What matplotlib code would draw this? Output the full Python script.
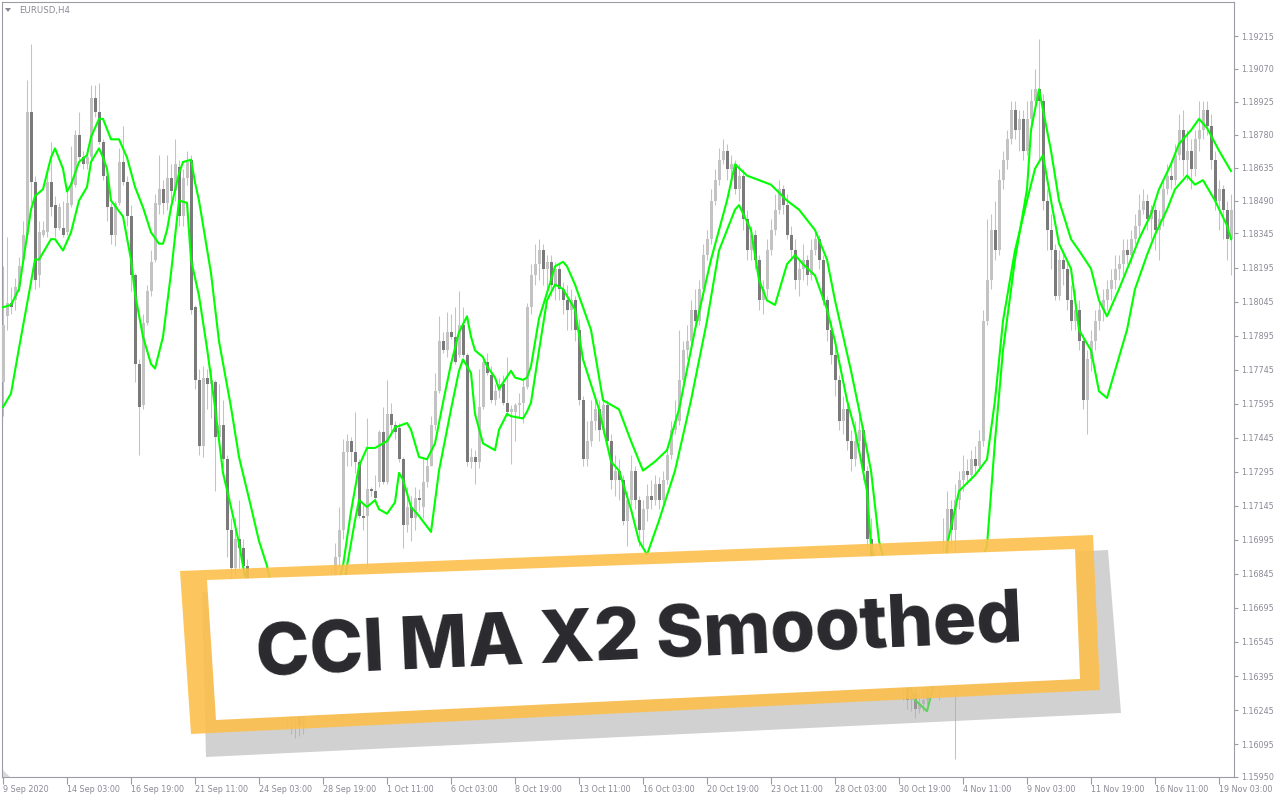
import matplotlib
matplotlib.use("Agg")
import matplotlib.pyplot as plt
from matplotlib.patches import Polygon
import numpy as np

# --------------------------------------------------
# Data (EURUSD H4)
# --------------------------------------------------

OPEN = [
    1.1769, 1.1798, 1.1804, 1.1805, 1.1811, 1.1823, 1.1834, 1.1888, 1.1857, 1.1816,
    1.1834, 1.1835, 1.1857, 1.1847, 1.1837, 1.1837, 1.1835, 1.1847, 1.1856, 1.1878,
    1.1868, 1.1865, 1.1868, 1.1894, 1.1888, 1.1875, 1.1860, 1.1846, 1.1834, 1.1848,
    1.1866, 1.1857, 1.1842, 1.1816, 1.1777, 1.1759, 1.1795, 1.1809, 1.1823, 1.1847,
    1.1854, 1.1848, 1.1859, 1.1853, 1.1864, 1.1842, 1.1859, 1.1867, 1.1802, 1.1770,
    1.1741, 1.1771, 1.1768, 1.1769, 1.1745, 1.1750, 1.1735, 1.1704, 1.1687, 1.1700,
    1.1696, 1.1688, 1.1678, 1.1665, 1.1671, 1.1656, 1.1647, 1.1651, 1.1638, 1.1629,
    1.1634, 1.1623, 1.1627, 1.1621, 1.1624, 1.1618, 1.1627, 1.1629, 1.1634, 1.1638,
    1.1647, 1.1656, 1.1669, 1.1682, 1.1692, 1.1704, 1.1738, 1.1743, 1.1738, 1.1734,
    1.1710, 1.1710, 1.1722, 1.1721, 1.1725, 1.1747, 1.1725, 1.1755, 1.1750, 1.1749,
    1.1735, 1.1706, 1.1714, 1.1709, 1.1718, 1.1714, 1.1725, 1.1732, 1.1750, 1.1765,
    1.1787, 1.1783, 1.1791, 1.1789, 1.1781, 1.1794, 1.1781, 1.1734, 1.1736, 1.1734,
    1.1758, 1.1778, 1.1772, 1.1761, 1.1765, 1.1768, 1.1760, 1.1756, 1.1756, 1.1759,
    1.1760, 1.1767, 1.1802, 1.1816, 1.1821, 1.1827, 1.1819, 1.1822, 1.1812, 1.1819,
    1.1810, 1.1805, 1.1801, 1.1805, 1.1792, 1.1761, 1.1735, 1.1743, 1.1752, 1.1757,
    1.1748, 1.1759, 1.1743, 1.1726, 1.1730, 1.1726, 1.1708, 1.1717, 1.1730, 1.1717,
    1.1704, 1.1713, 1.1719, 1.1717, 1.1724, 1.1717, 1.1726, 1.1737, 1.1748, 1.1752,
    1.1770, 1.1783, 1.1787, 1.1801, 1.1796, 1.1810, 1.1825, 1.1832, 1.1849, 1.1858,
    1.1867, 1.1871, 1.1863, 1.1865, 1.1854, 1.1860, 1.1841, 1.1827, 1.1834, 1.1823,
    1.1805, 1.1810, 1.1827, 1.1836, 1.1845, 1.1854, 1.1847, 1.1834, 1.1827, 1.1814,
    1.1819, 1.1823, 1.1816, 1.1827, 1.1832, 1.1823, 1.1805, 1.1792, 1.1781, 1.1770,
    1.1752, 1.1757, 1.1743, 1.1735, 1.1743, 1.1748, 1.1730, 1.1700, 1.1691, 1.1678,
    1.1665, 1.1669, 1.1656, 1.1647, 1.1651, 1.1638, 1.1634, 1.1629, 1.1632, 1.1625,
    1.1627, 1.1629, 1.1634, 1.1638, 1.1647, 1.1656, 1.1691, 1.1713, 1.1704, 1.1717,
    1.1726, 1.1730, 1.1728, 1.1735, 1.1732, 1.1743, 1.1796, 1.1814, 1.1836, 1.1827,
    1.1858, 1.1867, 1.1876, 1.1889, 1.1880, 1.1885, 1.1871, 1.1885, 1.1893, 1.1898,
    1.1893, 1.1849, 1.1836, 1.1827, 1.1807, 1.1823, 1.1819, 1.1805, 1.1796, 1.1801,
    1.1787, 1.1761, 1.1779, 1.1787, 1.1796, 1.1801, 1.1805, 1.1810, 1.1814, 1.1819,
    1.1821, 1.1827, 1.1825, 1.1832, 1.1838, 1.1845, 1.1849, 1.1841, 1.1845, 1.1836,
    1.1841, 1.1854, 1.1860, 1.1858, 1.1869, 1.1880, 1.1867, 1.1871, 1.1863, 1.1876,
    1.1880, 1.1889, 1.1882, 1.1867, 1.1849, 1.1854, 1.1845, 1.1832,
]

HIGH = [
    1.1820, 1.1833, 1.1811, 1.1815, 1.1824, 1.1840, 1.1902, 1.1918, 1.1860, 1.1840,
    1.1840, 1.1863, 1.1875, 1.1851, 1.1848, 1.1849, 1.1854, 1.1873, 1.1880, 1.1888,
    1.1871, 1.1872, 1.1900, 1.1900, 1.1901, 1.1876, 1.1862, 1.1848, 1.1849, 1.1872,
    1.1882, 1.1860, 1.1847, 1.1817, 1.1779, 1.1799, 1.1812, 1.1827, 1.1852, 1.1869,
    1.1858, 1.1869, 1.1865, 1.1876, 1.1867, 1.1863, 1.1871, 1.1869, 1.1803, 1.1775,
    1.1776, 1.1775, 1.1775, 1.1770, 1.1768, 1.1761, 1.1737, 1.1709, 1.1709, 1.1717,
    1.1700, 1.1691, 1.1680, 1.1676, 1.1673, 1.1660, 1.1656, 1.1654, 1.1643, 1.1638,
    1.1636, 1.1632, 1.1629, 1.1629, 1.1627, 1.1629, 1.1634, 1.1638, 1.1645, 1.1651,
    1.1660, 1.1673, 1.1687, 1.1698, 1.1714, 1.1744, 1.1746, 1.1745, 1.1756, 1.1735,
    1.1715, 1.1753, 1.1723, 1.1728, 1.1748, 1.1758, 1.1770, 1.1760, 1.1752, 1.1751,
    1.1736, 1.1723, 1.1719, 1.1723, 1.1722, 1.1736, 1.1735, 1.1754, 1.1773, 1.1798,
    1.1791, 1.1800, 1.1799, 1.1802, 1.1809, 1.1802, 1.1782, 1.1740, 1.1739, 1.1775,
    1.1779, 1.1782, 1.1776, 1.1768, 1.1771, 1.1772, 1.1780, 1.1759, 1.1760, 1.1764,
    1.1771, 1.1804, 1.1821, 1.1830, 1.1832, 1.1830, 1.1825, 1.1825, 1.1822, 1.1821,
    1.1813, 1.1812, 1.1810, 1.1807, 1.1797, 1.1763, 1.1752, 1.1761, 1.1763, 1.1761,
    1.1763, 1.1761, 1.1746, 1.1737, 1.1735, 1.1728, 1.1721, 1.1737, 1.1732, 1.1719,
    1.1717, 1.1724, 1.1726, 1.1728, 1.1727, 1.1730, 1.1741, 1.1752, 1.1761, 1.1792,
    1.1787, 1.1794, 1.1805, 1.1810, 1.1814, 1.1830, 1.1836, 1.1854, 1.1863, 1.1872,
    1.1876, 1.1874, 1.1869, 1.1867, 1.1865, 1.1863, 1.1845, 1.1838, 1.1836, 1.1825,
    1.1814, 1.1832, 1.1841, 1.1852, 1.1858, 1.1856, 1.1852, 1.1838, 1.1832, 1.1823,
    1.1830, 1.1825, 1.1832, 1.1836, 1.1834, 1.1825, 1.1807, 1.1796, 1.1785, 1.1772,
    1.1763, 1.1761, 1.1748, 1.1752, 1.1754, 1.1750, 1.1732, 1.1709, 1.1695, 1.1682,
    1.1673, 1.1673, 1.1660, 1.1656, 1.1656, 1.1643, 1.1638, 1.1636, 1.1634, 1.1632,
    1.1634, 1.1638, 1.1643, 1.1651, 1.1660, 1.1709, 1.1721, 1.1717, 1.1724, 1.1730,
    1.1737, 1.1735, 1.1739, 1.1741, 1.1748, 1.1801, 1.1841, 1.1843, 1.1849, 1.1863,
    1.1871, 1.1880, 1.1893, 1.1893, 1.1889, 1.1889, 1.1893, 1.1898, 1.1907, 1.1920,
    1.1896, 1.1854, 1.1843, 1.1830, 1.1827, 1.1827, 1.1823, 1.1812, 1.1810, 1.1805,
    1.1790, 1.1783, 1.1792, 1.1801, 1.1805, 1.1810, 1.1814, 1.1819, 1.1825, 1.1825,
    1.1832, 1.1832, 1.1836, 1.1843, 1.1852, 1.1854, 1.1852, 1.1847, 1.1847, 1.1845,
    1.1858, 1.1865, 1.1867, 1.1874, 1.1887, 1.1889, 1.1880, 1.1876, 1.1880, 1.1893,
    1.1893, 1.1893, 1.1887, 1.1871, 1.1858, 1.1856, 1.1849, 1.1852,
]

LOW = [
    1.1754, 1.1792, 1.1799, 1.1801, 1.1809, 1.1822, 1.1832, 1.1848, 1.1810, 1.1811,
    1.1833, 1.1833, 1.1842, 1.1833, 1.1836, 1.1833, 1.1834, 1.1846, 1.1855, 1.1867,
    1.1863, 1.1863, 1.1867, 1.1886, 1.1874, 1.1858, 1.1840, 1.1830, 1.1829, 1.1847,
    1.1856, 1.1838, 1.1809, 1.1769, 1.1737, 1.1757, 1.1794, 1.1807, 1.1822, 1.1843,
    1.1843, 1.1845, 1.1849, 1.1849, 1.1838, 1.1838, 1.1856, 1.1799, 1.1766, 1.1737,
    1.1736, 1.1757, 1.1753, 1.1721, 1.1744, 1.1731, 1.1692, 1.1682, 1.1684, 1.1687,
    1.1684, 1.1673, 1.1660, 1.1656, 1.1651, 1.1643, 1.1640, 1.1634, 1.1625, 1.1623,
    1.1620, 1.1617, 1.1614, 1.1612, 1.1613, 1.1614, 1.1623, 1.1625, 1.1629, 1.1634,
    1.1643, 1.1651, 1.1665, 1.1678, 1.1687, 1.1700, 1.1732, 1.1732, 1.1729, 1.1709,
    1.1704, 1.1687, 1.1719, 1.1717, 1.1723, 1.1724, 1.1724, 1.1747, 1.1744, 1.1734,
    1.1696, 1.1703, 1.1699, 1.1704, 1.1712, 1.1709, 1.1723, 1.1732, 1.1748, 1.1764,
    1.1782, 1.1780, 1.1788, 1.1777, 1.1780, 1.1780, 1.1732, 1.1731, 1.1724, 1.1731,
    1.1757, 1.1772, 1.1760, 1.1759, 1.1762, 1.1759, 1.1754, 1.1733, 1.1743, 1.1753,
    1.1751, 1.1766, 1.1799, 1.1812, 1.1814, 1.1812, 1.1810, 1.1807, 1.1805, 1.1805,
    1.1799, 1.1792, 1.1792, 1.1787, 1.1759, 1.1732, 1.1732, 1.1741, 1.1748, 1.1743,
    1.1746, 1.1741, 1.1722, 1.1719, 1.1717, 1.1706, 1.1697, 1.1715, 1.1713, 1.1697,
    1.1697, 1.1708, 1.1713, 1.1715, 1.1713, 1.1715, 1.1724, 1.1735, 1.1746, 1.1750,
    1.1768, 1.1779, 1.1785, 1.1792, 1.1794, 1.1807, 1.1823, 1.1830, 1.1847, 1.1856,
    1.1865, 1.1858, 1.1856, 1.1852, 1.1849, 1.1836, 1.1823, 1.1823, 1.1819, 1.1801,
    1.1799, 1.1807, 1.1825, 1.1834, 1.1843, 1.1843, 1.1832, 1.1823, 1.1810, 1.1807,
    1.1814, 1.1812, 1.1814, 1.1825, 1.1819, 1.1803, 1.1787, 1.1777, 1.1763, 1.1748,
    1.1746, 1.1739, 1.1730, 1.1732, 1.1741, 1.1726, 1.1695, 1.1682, 1.1673, 1.1660,
    1.1656, 1.1651, 1.1643, 1.1640, 1.1634, 1.1629, 1.1625, 1.1624, 1.1621, 1.1623,
    1.1624, 1.1627, 1.1632, 1.1634, 1.1629, 1.1651, 1.1687, 1.1697, 1.1603, 1.1713,
    1.1721, 1.1724, 1.1726, 1.1728, 1.1730, 1.1741, 1.1794, 1.1810, 1.1823, 1.1825,
    1.1854, 1.1863, 1.1874, 1.1876, 1.1871, 1.1867, 1.1869, 1.1880, 1.1889, 1.1867,
    1.1845, 1.1827, 1.1819, 1.1805, 1.1805, 1.1812, 1.1801, 1.1792, 1.1792, 1.1783,
    1.1757, 1.1746, 1.1774, 1.1783, 1.1792, 1.1796, 1.1801, 1.1805, 1.1810, 1.1814,
    1.1816, 1.1821, 1.1821, 1.1830, 1.1834, 1.1843, 1.1836, 1.1832, 1.1827, 1.1823,
    1.1838, 1.1852, 1.1854, 1.1856, 1.1867, 1.1860, 1.1858, 1.1854, 1.1860, 1.1871,
    1.1876, 1.1878, 1.1863, 1.1845, 1.1836, 1.1832, 1.1823, 1.1816,
]

CLOSE = [
    1.1794, 1.1804, 1.1802, 1.1811, 1.1820, 1.1834, 1.1888, 1.1857, 1.1814, 1.1835,
    1.1836, 1.1857, 1.1846, 1.1837, 1.1846, 1.1834, 1.1848, 1.1857, 1.1878, 1.1868,
    1.1865, 1.1868, 1.1894, 1.1888, 1.1875, 1.1860, 1.1846, 1.1834, 1.1848, 1.1866,
    1.1857, 1.1842, 1.1816, 1.1777, 1.1758, 1.1795, 1.1809, 1.1822, 1.1848, 1.1854,
    1.1848, 1.1859, 1.1853, 1.1865, 1.1842, 1.1859, 1.1866, 1.1801, 1.1770, 1.1741,
    1.1771, 1.1768, 1.1770, 1.1745, 1.1750, 1.1735, 1.1704, 1.1687, 1.1700, 1.1696,
    1.1688, 1.1678, 1.1665, 1.1671, 1.1656, 1.1647, 1.1651, 1.1638, 1.1629, 1.1634,
    1.1623, 1.1627, 1.1621, 1.1624, 1.1618, 1.1627, 1.1629, 1.1634, 1.1638, 1.1647,
    1.1656, 1.1669, 1.1682, 1.1692, 1.1704, 1.1738, 1.1743, 1.1738, 1.1734, 1.1710,
    1.1709, 1.1722, 1.1721, 1.1718, 1.1747, 1.1725, 1.1755, 1.1750, 1.1747, 1.1735,
    1.1706, 1.1714, 1.1709, 1.1718, 1.1717, 1.1725, 1.1732, 1.1750, 1.1765, 1.1787,
    1.1783, 1.1791, 1.1789, 1.1778, 1.1794, 1.1781, 1.1734, 1.1736, 1.1734, 1.1758,
    1.1778, 1.1773, 1.1761, 1.1765, 1.1768, 1.1760, 1.1756, 1.1757, 1.1759, 1.1760,
    1.1767, 1.1802, 1.1816, 1.1821, 1.1827, 1.1819, 1.1822, 1.1812, 1.1819, 1.1810,
    1.1805, 1.1801, 1.1805, 1.1792, 1.1761, 1.1735, 1.1743, 1.1752, 1.1757, 1.1748,
    1.1759, 1.1743, 1.1726, 1.1730, 1.1726, 1.1708, 1.1717, 1.1730, 1.1717, 1.1704,
    1.1713, 1.1719, 1.1717, 1.1724, 1.1717, 1.1726, 1.1737, 1.1748, 1.1752, 1.1770,
    1.1783, 1.1787, 1.1801, 1.1796, 1.1810, 1.1825, 1.1832, 1.1849, 1.1858, 1.1867,
    1.1871, 1.1863, 1.1865, 1.1854, 1.1860, 1.1841, 1.1827, 1.1834, 1.1823, 1.1805,
    1.1810, 1.1827, 1.1836, 1.1845, 1.1854, 1.1847, 1.1834, 1.1827, 1.1814, 1.1819,
    1.1823, 1.1816, 1.1827, 1.1832, 1.1823, 1.1805, 1.1792, 1.1781, 1.1770, 1.1752,
    1.1757, 1.1743, 1.1735, 1.1743, 1.1748, 1.1730, 1.1700, 1.1691, 1.1678, 1.1665,
    1.1669, 1.1656, 1.1647, 1.1651, 1.1638, 1.1634, 1.1629, 1.1632, 1.1625, 1.1627,
    1.1629, 1.1634, 1.1638, 1.1647, 1.1656, 1.1691, 1.1713, 1.1704, 1.1717, 1.1726,
    1.1730, 1.1728, 1.1735, 1.1732, 1.1743, 1.1796, 1.1814, 1.1836, 1.1827, 1.1858,
    1.1867, 1.1876, 1.1889, 1.1880, 1.1885, 1.1871, 1.1885, 1.1893, 1.1898, 1.1893,
    1.1849, 1.1836, 1.1827, 1.1807, 1.1823, 1.1819, 1.1805, 1.1796, 1.1801, 1.1787,
    1.1761, 1.1779, 1.1787, 1.1796, 1.1801, 1.1805, 1.1810, 1.1814, 1.1819, 1.1821,
    1.1827, 1.1825, 1.1832, 1.1838, 1.1845, 1.1849, 1.1841, 1.1845, 1.1836, 1.1841,
    1.1854, 1.1860, 1.1858, 1.1869, 1.1880, 1.1867, 1.1871, 1.1863, 1.1876, 1.1880,
    1.1889, 1.1882, 1.1867, 1.1849, 1.1854, 1.1845, 1.1832, 1.1845,
]

# the two smoothed lines, read as (bar index, price) points
LINE_A_BARS = [
    0, 2, 4, 7, 8, 10, 12, 13, 15, 16, 17, 19, 21, 22, 24, 25, 27, 29, 31, 33,
    35, 37, 39, 40, 41, 42, 44, 45, 47, 48, 49, 52, 54, 57, 59, 62, 64, 66, 69, 73,
    75, 79, 82, 85, 87, 89, 91, 93, 96, 98, 101, 102, 104, 106, 108, 110, 112, 114, 116, 117,
    118, 120, 121, 123, 124, 127, 128, 130, 131, 132, 134, 137, 138, 140, 141, 143, 147, 150, 154, 157,
    160, 163, 166, 169, 173, 177, 181, 183, 186, 189, 192, 196, 199, 203, 206, 208, 212, 214, 217, 219,
    224, 232, 238, 243, 246, 248, 250, 253, 256, 257, 259, 262, 264, 267, 269, 272, 274, 276, 279, 282,
    284, 287, 289, 292, 294, 297, 299, 301, 304, 307,
]
LINE_A = [
    1.1802, 1.1803, 1.1810, 1.1845, 1.1851, 1.1854, 1.1868, 1.1872, 1.1863, 1.1853,
    1.1856, 1.1866, 1.1869, 1.1877, 1.1885, 1.1885, 1.1876, 1.1876, 1.1868, 1.1855,
    1.1846, 1.1835, 1.1830, 1.1830, 1.1836, 1.1846, 1.1861, 1.1866, 1.1867, 1.1857,
    1.1849, 1.1817, 1.1787, 1.1758, 1.1736, 1.1714, 1.1699, 1.1688, 1.1665, 1.1638,
    1.1629, 1.1647, 1.1669, 1.1688, 1.1712, 1.1732, 1.1740, 1.1740, 1.1743, 1.1749,
    1.1751, 1.1748, 1.1736, 1.1735, 1.1742, 1.1760, 1.1777, 1.1791, 1.1798, 1.1789,
    1.1783, 1.1780, 1.1776, 1.1771, 1.1766, 1.1774, 1.1771, 1.1770, 1.1771, 1.1776,
    1.1797, 1.1814, 1.1820, 1.1822, 1.1820, 1.1812, 1.1792, 1.1761, 1.1757, 1.1743,
    1.1730, 1.1734, 1.1739, 1.1757, 1.1792, 1.1823, 1.1849, 1.1865, 1.1860, 1.1858,
    1.1856, 1.1849, 1.1845, 1.1836, 1.1823, 1.1805, 1.1774, 1.1757, 1.1730, 1.1699,
    1.1665, 1.1638, 1.1651, 1.1682, 1.1697, 1.1743, 1.1783, 1.1823, 1.1854, 1.1880,
    1.1898, 1.1871, 1.1849, 1.1832, 1.1827, 1.1819, 1.1805, 1.1798, 1.1810, 1.1823,
    1.1832, 1.1843, 1.1854, 1.1865, 1.1874, 1.1880, 1.1885, 1.1881, 1.1871, 1.1862,
]

LINE_B_BARS = [
    0, 2, 4, 7, 8, 9, 12, 13, 15, 17, 19, 21, 22, 24, 25, 26, 27, 30, 32, 33,
    35, 37, 38, 40, 42, 44, 46, 47, 49, 51, 53, 55, 57, 59, 60, 64, 69, 74, 79, 82,
    86, 88, 89, 91, 93, 94, 96, 98, 99, 100, 102, 104, 107, 109, 112, 114, 115, 117, 118, 120,
    122, 123, 124, 126, 127, 130, 131, 132, 134, 136, 138, 140, 143, 145, 149, 152, 154, 157, 159, 161,
    164, 168, 172, 176, 179, 183, 184, 187, 189, 191, 193, 196, 198, 200, 203, 206, 208, 211, 213, 216,
    217, 223, 228, 231, 233, 236, 239, 243, 246, 248, 250, 253, 256, 258, 260, 262, 264, 267, 269, 272,
    274, 276, 278, 281, 283, 286, 288, 291, 293, 296, 298, 300, 303, 306, 307,
]
LINE_B = [
    1.1758, 1.1764, 1.1784, 1.1813, 1.1823, 1.1823, 1.1832, 1.1832, 1.1827, 1.1835,
    1.1849, 1.1855, 1.1866, 1.1872, 1.1868, 1.1863, 1.1849, 1.1842, 1.1823, 1.1808,
    1.1789, 1.1777, 1.1775, 1.1789, 1.1817, 1.1849, 1.1848, 1.1823, 1.1807, 1.1784,
    1.1758, 1.1729, 1.1714, 1.1698, 1.1688, 1.1656, 1.1634, 1.1624, 1.1622, 1.1643,
    1.1688, 1.1708, 1.1717, 1.1714, 1.1717, 1.1713, 1.1711, 1.1716, 1.1729, 1.1726,
    1.1714, 1.1710, 1.1703, 1.1730, 1.1757, 1.1774, 1.1779, 1.1773, 1.1755, 1.1742,
    1.1740, 1.1739, 1.1748, 1.1755, 1.1754, 1.1753, 1.1756, 1.1760, 1.1783, 1.1805,
    1.1812, 1.1810, 1.1801, 1.1779, 1.1757, 1.1734, 1.1730, 1.1713, 1.1699, 1.1693,
    1.1708, 1.1730, 1.1761, 1.1796, 1.1827, 1.1845, 1.1847, 1.1836, 1.1814, 1.1805,
    1.1803, 1.1821, 1.1825, 1.1821, 1.1816, 1.1801, 1.1787, 1.1761, 1.1748, 1.1721,
    1.1697, 1.1651, 1.1629, 1.1624, 1.1638, 1.1697, 1.1721, 1.1728, 1.1735, 1.1761,
    1.1796, 1.1827, 1.1849, 1.1863, 1.1869, 1.1849, 1.1830, 1.1819, 1.1792, 1.1783,
    1.1765, 1.1762, 1.1774, 1.1792, 1.1810, 1.1825, 1.1834, 1.1845, 1.1854, 1.1860,
    1.1856, 1.1858, 1.1849, 1.1838, 1.1832,
]

PRICE_TICKS = [
    1.19215, 1.19070, 1.18925, 1.18780, 1.18635, 1.18490, 1.18345, 1.18195,
    1.18045, 1.17895, 1.17745, 1.17595, 1.17445, 1.17295, 1.17145, 1.16995,
    1.16845, 1.16695, 1.16545, 1.16395, 1.16245, 1.16095, 1.15950,
]

DATE_TICKS = list(range(0, 308, 16))
DATE_LABELS = [
    "9 Sep 2020", "14 Sep 03:00", "16 Sep 19:00", "21 Sep 11:00", "24 Sep 03:00",
    "28 Sep 19:00", "1 Oct 11:00", "6 Oct 03:00", "8 Oct 19:00", "13 Oct 11:00",
    "16 Oct 03:00", "20 Oct 19:00", "23 Oct 11:00", "28 Oct 03:00", "30 Oct 19:00",
    "4 Nov 11:00", "9 Nov 03:00", "11 Nov 19:00", "16 Nov 11:00", "19 Nov 03:00",
]

SYMBOL = "EURUSD,H4"
TITLE = "CCI MA X2 Smoothed"

# --------------------------------------------------
# Styling
# --------------------------------------------------

BULL = "#c3c3c3"
BEAR = "#7a7a7a"
WICK = "#c3c3c3"
LINE_GREEN = "#00ff00"
AXIS_COL = "#9c9ca4"
TEXT_COL = "#8a8a96"

W, H = 1280, 800
fig = plt.figure(figsize=(W / 100, H / 100), dpi=100)
fig.patch.set_facecolor("white")

ax = fig.add_axes([2 / W, 23 / H, 1232 / W, 775 / H])
ax.set_facecolor("white")

o = np.array(OPEN)
h = np.array(HIGH)
l = np.array(LOW)
c = np.array(CLOSE)
x = np.arange(len(o))

# wicks
ax.vlines(x, l, h, color=WICK, linewidth=0.75, zorder=2)

# bodies
bull = c >= o
body_bottom = np.minimum(o, c)
body_height = np.maximum(np.abs(c - o), 0.00004)
ax.bar(x[bull], body_height[bull], bottom=body_bottom[bull], width=0.75,
       color=BULL, linewidth=0, zorder=3)
ax.bar(x[~bull], body_height[~bull], bottom=body_bottom[~bull], width=0.75,
       color=BEAR, linewidth=0, zorder=3)

# smoothed lines
ax.plot(LINE_A_BARS, LINE_A, color=LINE_GREEN, linewidth=1.5, zorder=4)
ax.plot(LINE_B_BARS, LINE_B, color=LINE_GREEN, linewidth=1.5, zorder=4)

ax.set_xlim(-0.25, 307.75)
ax.set_ylim(1.15950, 1.19365)

# price axis on the right
ax.yaxis.tick_right()
ax.set_yticks(PRICE_TICKS)
ax.set_yticklabels([f"{p:.5f}" for p in PRICE_TICKS])
ax.tick_params(axis="y", direction="out", length=3, width=0.8, color=AXIS_COL,
               labelcolor=TEXT_COL, labelsize=5.8, pad=2)

# time axis
ax.set_xticks(DATE_TICKS)
ax.set_xticklabels(DATE_LABELS)
ax.tick_params(axis="x", direction="out", length=5, width=0.8, color=AXIS_COL,
               labelcolor=TEXT_COL, labelsize=5.8, pad=1)
for lab in ax.get_xticklabels():
    lab.set_horizontalalignment("left")

for s in ax.spines.values():
    s.set_color(AXIS_COL)
    s.set_linewidth(0.8)

# --------------------------------------------------
# Overlay in pixel space: symbol label and banner
# --------------------------------------------------

ov = fig.add_axes([0, 0, 1, 1])
ov.set_xlim(0, W)
ov.set_ylim(H, 0)
ov.axis("off")
ov.patch.set_alpha(0)

ov.add_patch(Polygon([(5, 8), (11, 8), (8, 12)], closed=True, color=TEXT_COL, lw=0))
ov.text(19, 10.5, SYMBOL, color=TEXT_COL, fontsize=6.2, va="center", ha="left")
ov.add_patch(Polygon([(3, 770), (3, 777), (10, 777)], closed=True, color="#d8d8dc", lw=0))

# banner: translucent shadow and frame, opaque white card
shadow = Polygon([(202, 592), (1108, 550), (1121, 713), (206, 757)], closed=True,
                 facecolor="#acacac", edgecolor="none", alpha=0.55, zorder=5)
frame = Polygon([(180, 571), (1093, 535), (1100, 690), (191, 734)], closed=True,
                facecolor="#fdbf4b", edgecolor="none", alpha=0.9, zorder=6)
inner = Polygon([(207, 580), (1075, 549), (1080, 679), (216, 720)], closed=True,
                facecolor="white", edgecolor="none", zorder=7)
for p in (shadow, frame, inner):
    ov.add_patch(p)

ov.text(640, 659, TITLE, color="#2a2a2e", fontsize=52, fontweight="heavy",
        family=["Inter", "Roboto", "DejaVu Sans"], ha="center", va="baseline",
        rotation=2.6, rotation_mode="anchor", zorder=8)

fig.savefig("out.png", dpi=100, facecolor="white")
